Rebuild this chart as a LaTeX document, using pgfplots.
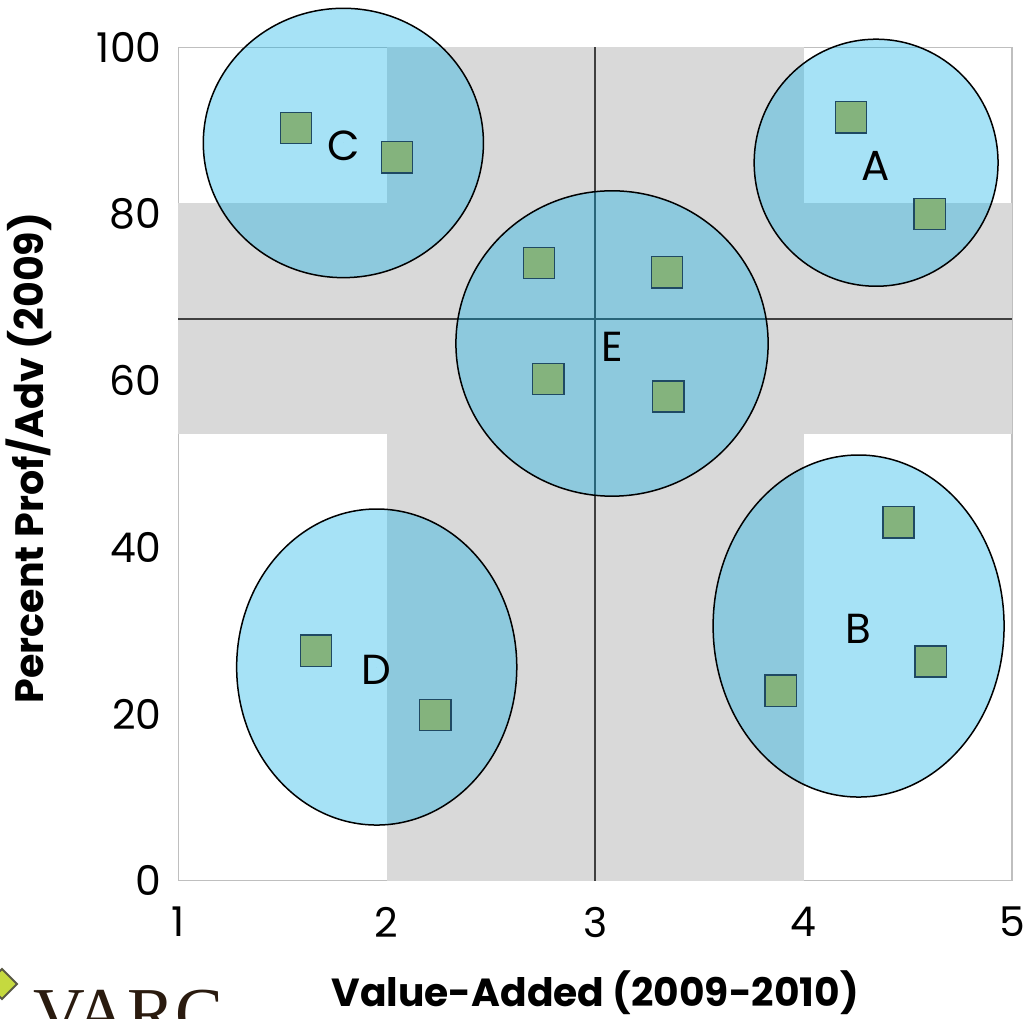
\documentclass[border=0pt]{standalone}
\usepackage{fontspec}
\setmainfont{Poppins}
\newfontfamily\logofont{Liberation Serif}
\usepackage{pgfplots}
\usepackage{pgfplotstable}
\pgfplotsset{compat=1.18}

\definecolor{bandgray}{RGB}{217,217,217}
\definecolor{clusterblue}{RGB}{0,172,229}
\definecolor{schoolgreen}{RGB}{132,179,125}
\definecolor{schooledge}{RGB}{31,73,99}
\definecolor{framegray}{RGB}{191,191,191}
\definecolor{quadline}{RGB}{64,64,64}
\definecolor{logogreen}{RGB}{197,217,63}
\definecolor{logoedge}{RGB}{89,89,68}
\definecolor{logobrown}{RGB}{42,27,15}

\tikzset{cluster/.style={fill=clusterblue, fill opacity=0.35, draw=black, line width=0.75pt}}

% schools: value-added (x) vs. percent proficient/advanced (y)
\pgfplotstableread{
x     y
1.565 90.3
2.049 86.8
4.228 91.6
4.605 80.0
2.731 74.1
3.345 73.0
2.775 60.2
3.351 58.1
1.661 27.6
2.233 19.9
4.455 43.0
4.610 26.3
3.890 22.8
}\schools

% cluster ellipses: centre and radii in axis units
\pgfplotstableread{
cx    cy    rx    ry    name
4.348 86.15 0.585 14.82 A
4.264 30.56 0.698 20.52 B
1.792 88.52 0.672 16.16 C
1.952 25.64 0.672 18.96 D
3.081 64.46 0.749 18.32 E
}\clusters

\begin{document}
\begin{tikzpicture}
\begin{axis}[
  at={(0,0)}, anchor=south west,
  scale only axis, width=416.85pt, height=416.7pt,
  xmin=1, xmax=5, ymin=0, ymax=100,
  xtick={1,2,3,4,5}, ytick={0,20,40,60,80,100},
  major tick length=0pt,
  axis line style={draw=framegray, line width=0.75pt},
  clip=false,
  /pgf/number format/assume math mode=true,
  tick label style={font=\fontsize{20.5}{24}\selectfont, inner sep=0pt},
  xticklabel style={anchor=north, yshift=-13pt},
  yticklabel style={anchor=east, xshift=-8.15pt},
  xlabel={Value-Added (2009-2010)},
  ylabel={Percent Prof/Adv (2009)},
  xlabel style={at={(axis description cs:0.5,-0.1515)}, anchor=base, inner sep=0pt,
                font=\bfseries\fontsize{19.6}{22}\selectfont},
  ylabel style={at={(axis description cs:-0.1611,0.5072)}, anchor=base, inner sep=0pt,
                font=\bfseries\fontsize{19.8}{22}\selectfont},
]
% grey cross bands
\addplot[fill=bandgray, draw=none, forget plot] coordinates {(2,0) (4,0) (4,100) (2,100)} -- cycle;
\addplot[fill=bandgray, draw=none, forget plot] coordinates {(1,53.6) (5,53.6) (5,81.26) (1,81.26)} -- cycle;
% quadrant dividers
\addplot[quadline, line width=1pt, forget plot] coordinates {(3,0) (3,100)};
\addplot[quadline, line width=1pt, forget plot] coordinates {(1,67.43) (5,67.43)};
% cluster ellipses
\pgfplotsforeachungrouped \k in {0,...,4}{%
  \pgfplotstablegetelem{\k}{cx}\of\clusters\let\ecx\pgfplotsretval
  \pgfplotstablegetelem{\k}{cy}\of\clusters\let\ecy\pgfplotsretval
  \pgfplotstablegetelem{\k}{rx}\of\clusters\let\erx\pgfplotsretval
  \pgfplotstablegetelem{\k}{ry}\of\clusters\let\ery\pgfplotsretval
  \edef\clusterpath{\noexpand\draw[cluster] (axis cs:\ecx,\ecy) ellipse [x radius=\erx, y radius=\ery];}%
  \clusterpath
}
% schools
\addplot[only marks, mark=square*, mark size=7.8pt,
  mark options={fill=schoolgreen, draw=schooledge, line width=0.7pt}] table[x=x, y=y] {\schools};
% cluster letters
\addplot[only marks, mark=*, mark size=0pt, mark options={draw=none, fill=none},
  nodes near coords, point meta=explicit symbolic,
  every node near coord/.style={anchor=center, yshift=-1.5pt, inner sep=0pt,
    font=\fontsize{21}{24}\selectfont, text=black}]
  table[x=cx, y=cy, meta=name] {\clusters};
\end{axis}
% logo
\filldraw[fill=logogreen, draw=logoedge, line width=1pt]
  (-88.15pt,-44.15pt) -- (-80.65pt,-51.65pt) -- (-88.15pt,-59.15pt) -- (-95.65pt,-51.65pt) -- cycle;
\node[anchor=base west, inner sep=0pt, text=logobrown, font=\logofont\fontsize{35.8}{40}\selectfont]
  at (-72.65pt,-78.15pt) {VARC};
\pgfresetboundingbox
\path[use as bounding box] (-89.15pt,-68.65pt) rectangle (423.85pt,440.35pt);
\end{tikzpicture}
\end{document}
